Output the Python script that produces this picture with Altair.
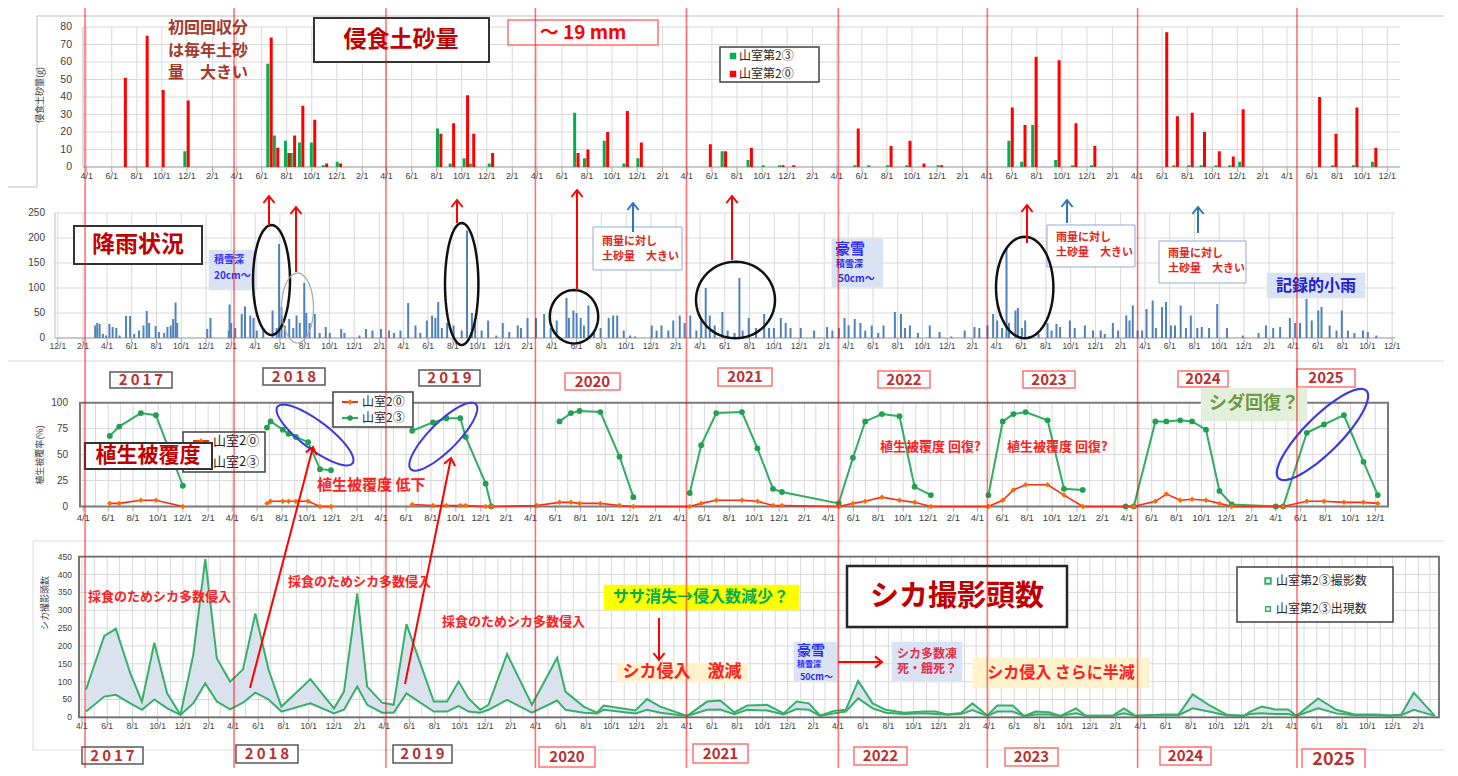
import math
import altair as alt
import pandas as pd

W, H = 1436, 760
OFF = 8  # page margin; annotation boxes/texts below are given in page pixels
JP = "Noto Sans CJK JP"
NUM = "Liberation Sans"
GRID = "#D9D9D9"
DARK_RED = "#C00000"
RED = "#FF2020"

# ====================== DATA ======================
# 侵食土砂量 per collection: 山室第2③ (green) / 山室第2⓪ (red)
ero_dates = ["2017-06-30", "2017-08-22", "2017-09-30", "2017-11-30",
             "2018-06-20", "2018-07-06", "2018-08-02", "2018-08-16", "2018-09-05", "2018-10-04", "2018-11-02", "2018-12-06",
             "2019-08-07", "2019-09-07", "2019-10-11", "2019-10-26", "2019-12-11",
             "2020-07-06", "2020-07-30", "2020-09-16", "2020-11-03", "2020-12-07",
             "2021-05-24", "2021-06-30", "2021-09-01", "2021-10-08", "2021-11-17", "2021-12-13",
             "2022-05-19", "2022-06-22", "2022-08-07", "2022-09-22", "2022-10-26", "2022-12-08",
             "2023-05-29", "2023-06-29", "2023-07-26", "2023-09-20", "2023-10-31", "2023-12-16",
             "2024-06-08", "2024-07-04", "2024-08-09", "2024-09-08", "2024-10-14", "2024-11-17", "2024-12-11",
             "2025-06-15", "2025-07-25", "2025-09-14", "2025-10-30"]
ero_site3 = [0, 0, 0, 9, 59, 18, 15, 8, 14, 14, 1, 3, 22, 2, 5, 2, 2, 31, 5, 15, 2, 5,
             0, 9, 4, 1, 1, 0, 1, 1, 1, 1, 0, 1, 15, 3, 24, 4, 1, 1, 0, 1, 1, 1, 1, 1, 3, 0, 1, 1, 3]
ero_site0 = [51, 75, 44, 38, 74, 11, 8, 18, 35, 27, 2, 2, 19, 25, 41, 19, 8, 8, 10, 20, 32, 14,
             13, 9, 11, 0, 1, 1, 22, 0, 12, 15, 2, 1, 34, 24, 63, 61, 25, 12, 77, 29, 31, 20, 9, 6, 33, 40, 19, 34, 11]

# 降雨 (mm)
rain_dates = [
    "2017-03-03", "2017-03-08", "2017-03-14", "2017-03-22", "2017-03-30", "2017-04-07", "2017-04-15", "2017-04-24", "2017-05-02", "2017-05-18", "2017-05-28", "2017-06-07", "2017-06-19", "2017-06-30", "2017-07-08", "2017-07-14", "2017-07-30", "2017-08-07", "2017-08-20", "2017-08-28", "2017-09-05", "2017-09-11", "2017-09-17", "2017-09-21", "2017-12-04", "2017-12-12", "2018-01-26", "2018-01-28", "2018-02-01", "2018-02-11",
    "2018-02-27", "2018-03-07", "2018-03-20", "2018-03-28", "2018-04-05", "2018-04-21", "2018-05-14", "2018-05-24", "2018-05-30", "2018-06-05", "2018-06-13", "2018-06-24", "2018-07-04", "2018-07-12", "2018-07-20", "2018-07-31", "2018-08-05", "2018-08-13", "2018-08-26", "2018-09-07", "2018-09-22", "2018-10-02", "2018-10-30", "2018-11-07", "2018-12-14", "2018-12-30", "2019-01-15", "2019-02-05", "2019-02-25",
    "2019-03-09", "2019-03-25", "2019-04-13", "2019-05-01", "2019-05-13", "2019-05-29", "2019-06-11", "2019-06-19", "2019-06-26", "2019-07-05", "2019-07-18", "2019-08-03", "2019-08-23", "2019-09-05", "2019-09-17", "2019-09-25", "2019-10-11", "2019-10-27", "2019-11-16", "2019-12-02", "2019-12-18", "2020-01-08", "2020-01-16", "2020-02-01", "2020-02-22",
    "2020-03-13", "2020-03-29", "2020-04-13", "2020-05-07", "2020-05-13", "2020-05-24", "2020-06-01", "2020-06-11", "2020-06-19", "2020-06-30", "2020-07-14", "2020-07-30", "2020-08-19", "2020-08-30", "2020-09-09", "2020-09-25", "2020-10-11", "2020-10-23", "2020-12-03", "2020-12-15", "2020-12-27", "2021-01-13", "2021-01-25", "2021-02-10", "2021-02-22",
    "2021-03-08", "2021-03-23", "2021-04-04", "2021-04-15", "2021-04-25", "2021-05-07", "2021-05-26", "2021-06-08", "2021-06-25", "2021-07-07", "2021-07-15", "2021-07-30", "2021-08-17", "2021-09-06", "2021-09-18", "2021-09-30", "2021-10-17", "2021-10-29", "2021-11-10", "2021-12-05", "2022-01-07", "2022-02-08", "2022-02-21",
    "2022-03-09", "2022-03-23", "2022-04-02", "2022-04-17", "2022-05-01", "2022-05-13", "2022-05-29", "2022-06-14", "2022-06-27", "2022-07-25", "2022-08-09", "2022-08-19", "2022-08-31", "2022-09-20", "2022-10-19", "2022-11-12", "2022-12-11", "2023-01-13",
    "2023-02-06", "2023-02-18", "2023-03-10", "2023-03-24", "2023-04-03", "2023-04-15", "2023-04-26", "2023-05-02", "2023-05-18", "2023-05-24", "2023-06-03", "2023-06-11", "2023-07-14", "2023-08-05", "2023-08-15", "2023-08-27", "2023-09-05", "2023-09-29", "2023-10-11", "2023-11-05", "2023-11-25", "2023-12-14", "2023-12-24", "2024-01-13", "2024-01-26", "2024-02-15", "2024-02-23", "2024-03-02",
    "2024-03-14", "2024-03-25", "2024-04-05", "2024-04-20", "2024-04-28", "2024-05-13", "2024-05-23", "2024-06-04", "2024-06-14", "2024-06-28", "2024-07-11", "2024-07-23", "2024-08-08", "2024-08-19", "2024-09-06", "2024-09-26", "2024-10-20", "2024-11-28", "2025-01-06", "2025-01-24", "2025-02-11", "2025-02-28", "2025-03-24",
    "2025-04-06", "2025-04-18", "2025-05-04", "2025-05-17", "2025-06-02", "2025-06-10", "2025-06-30", "2025-07-17", "2025-07-30", "2025-08-14", "2025-08-30", "2025-09-20", "2025-10-02", "2025-10-23"]
rain_mm = [
    25, 30, 28, 8, 5, 28, 22, 20, 5, 44, 44, 8, 15, 25, 54, 30, 24, 12, 10, 22, 25, 38, 71, 30, 18, 40, 15, 67, 30, 20,
    48, 63, 45, 40, 15, 20, 55, 20, 188, 62, 25, 38, 20, 45, 30, 110, 50, 30, 48, 10, 22, 10, 18, 10, 5, 18, 15, 18, 15,
    10, 15, 70, 25, 10, 35, 45, 40, 72, 20, 30, 25, 15, 215, 50, 40, 15, 35, 5, 30, 12, 25, 20, 40, 40,
    48, 20, 35, 80, 40, 55, 50, 40, 25, 65, 15, 20, 40, 45, 45, 15, 5, 3, 25, 15, 25, 15, 35, 45, 30,
    45, 15, 35, 100, 45, 25, 52, 15, 10, 120, 15, 40, 20, 48, 20, 20, 40, 30, 20, 20, 15, 22, 15,
    20, 40, 25, 38, 30, 15, 25, 10, 25, 52, 48, 20, 25, 10, 25, 12, 3, 15,
    22, 20, 25, 48, 35, 20, 180, 30, 55, 60, 20, 35, 8, 30, 15, 28, 22, 35, 20, 25, 15, 15, 8, 30, 15, 45, 35, 65,
    15, 15, 58, 75, 20, 62, 72, 25, 25, 65, 20, 45, 20, 22, 20, 68, 20, 5, 10, 25, 20, 22, 40,
    30, 30, 78, 35, 55, 62, 25, 15, 55, 15, 10, 15, 12, 5]

# 植生被覆率 (%) 山室2③ (green)
veg3_dates = ["2017-06-05", "2017-06-28", "2017-08-20", "2017-09-26", "2017-12-01",
              "2018-06-25", "2018-07-04", "2018-08-03", "2018-08-17", "2018-09-04", "2018-10-04", "2018-11-02", "2018-11-29",
              "2019-06-16", "2019-08-06", "2019-09-08", "2019-10-12", "2019-10-25", "2019-12-13", "2019-12-27",
              "2020-06-11", "2020-07-09", "2020-07-30", "2020-09-19", "2020-11-05", "2020-12-09",
              "2021-04-26", "2021-05-24", "2021-06-30", "2021-09-01", "2021-10-09", "2021-11-16", "2021-12-08",
              "2022-04-26", "2022-05-31", "2022-06-30", "2022-08-10", "2022-09-22", "2022-10-29", "2022-12-08",
              "2023-04-28", "2023-06-02", "2023-06-28", "2023-07-28", "2023-09-20", "2023-10-30", "2023-12-15",
              "2024-03-29", "2024-04-18", "2024-06-10", "2024-07-07", "2024-08-10", "2024-09-08", "2024-10-12", "2024-11-14", "2024-12-14",
              "2025-04-01", "2025-04-19", "2025-06-16", "2025-07-28", "2025-09-15", "2025-11-02", "2025-12-07"]
veg3_cover = [68, 77, 90, 88, 20,
              76, 82, 74, 70, 67, 62, 36, 35,
              73, 81, 85, 85, 67, 22, 0,
              82, 90, 92, 91, 48, 9,
              13, 59, 90, 91, 56, 17, 14,
              3, 47, 82, 89, 87, 19, 11,
              11, 82, 89, 91, 83, 17, 16,
              0, 0, 82, 82, 83, 82, 74, 15, 2,
              0, 0, 71, 79, 88, 43, 11]
veg3_run = ["a"] * 5 + ["b"] * 8 + ["c"] * 7 + ["d"] * 6 + ["e"] * 14 + ["f"] * 7 + ["g"] * 16

# 植生被覆率 (%) 山室2⓪ (red)
veg0_dates = ["2017-06-05", "2017-06-28", "2017-08-20", "2017-09-26", "2017-12-01",
              "2018-06-25", "2018-07-04", "2018-08-03", "2018-08-17", "2018-09-04", "2018-10-04", "2018-11-02", "2018-11-29",
              "2019-06-16", "2019-08-06", "2019-09-08", "2019-10-12", "2019-10-25", "2019-12-13", "2019-12-27",
              "2020-04-16", "2020-06-11", "2020-07-09", "2020-07-30", "2020-09-19", "2020-11-05", "2020-12-09",
              "2021-04-26", "2021-05-24", "2021-06-30", "2021-09-01", "2021-10-09", "2021-11-16", "2021-12-08",
              "2022-04-26", "2022-05-31", "2022-06-30", "2022-08-10", "2022-09-22", "2022-10-29", "2022-12-08",
              "2023-04-28", "2023-06-02", "2023-06-28", "2023-07-28", "2023-09-20", "2023-10-30", "2023-12-15",
              "2024-04-18", "2024-06-10", "2024-07-07", "2024-08-10", "2024-09-08", "2024-10-12", "2024-11-14", "2024-12-14",
              "2025-04-19", "2025-06-16", "2025-07-28", "2025-09-15", "2025-11-02", "2025-12-07"]
veg0_cover = [3, 3, 6, 6, 0,
              3, 5, 5, 5, 5, 5, 0, 0,
              2, 1, 1, 1, 1, 0, 0,
              1, 4, 4, 3, 3, 1, 0,
              0, 3, 6, 6, 5, 1, 1,
              0, 3, 5, 9, 6, 4, 0,
              0, 6, 16, 21, 21, 11, 0,
              0, 5, 12, 6, 7, 6, 3, 0,
              0, 5, 5, 4, 4, 3]
veg0_run = ["a"] * 5 + ["b"] * 8 + ["c"] * 49

# シカ撮影頭数: 撮影数 (upper) / 出現数 (lower)
deer_dates = ["2017-04-11", "2017-05-25", "2017-06-22", "2017-07-27", "2017-08-24", "2017-09-23", "2017-10-24", "2017-11-25", "2017-12-26",
              "2018-01-24", "2018-02-21", "2018-03-25", "2018-04-25", "2018-05-25", "2018-06-26", "2018-07-27", "2018-10-05", "2018-12-01", "2018-12-25",
              "2019-01-26", "2019-02-19", "2019-03-27", "2019-04-24", "2019-05-25", "2019-07-30", "2019-08-31", "2019-09-28", "2019-10-22", "2019-11-19", "2019-12-09",
              "2020-01-23", "2020-03-23", "2020-05-23", "2020-06-12", "2020-07-26", "2020-08-27", "2020-09-12", "2020-11-28", "2020-12-26",
              "2021-01-27", "2021-04-02", "2021-05-20", "2021-06-21", "2021-07-25", "2021-08-25", "2021-10-12", "2021-11-21", "2021-12-22",
              "2022-01-21", "2022-02-17", "2022-03-23", "2022-04-20", "2022-05-20", "2022-06-24", "2022-07-26", "2022-09-08", "2022-10-26", "2022-11-23", "2022-12-21",
              "2023-01-23", "2023-02-20", "2023-03-28", "2023-04-21", "2023-05-28", "2023-06-25", "2023-07-23", "2023-08-24", "2023-09-21", "2023-10-28", "2023-11-21",
              "2024-01-24", "2024-02-21", "2024-03-20", "2024-05-27", "2024-07-02", "2024-08-05", "2024-09-13", "2024-10-27", "2024-12-06", "2024-12-22",
              "2025-01-19", "2025-02-20", "2025-03-24", "2025-04-13", "2025-06-04", "2025-07-18", "2025-08-31", "2025-10-23", "2025-11-24", "2025-12-22",
              "2026-01-21", "2026-03-13"]
deer_shots = [78, 228, 248, 123, 44, 209, 67, 7, 175,
              443, 165, 100, 134, 291, 133, 30, 107, 25, 72,
              347, 86, 41, 35, 261, 44, 44, 100, 53, 21, 35,
              177, 35, 167, 72, 30, 13, 33, 19, 51,
              30, 4, 44, 47, 14, 33, 35, 11, 44,
              39, 5, 18, 21, 102, 39, 21, 13, 16, 16, 8,
              12, 39, 5, 33, 33, 4, 16, 14, 4, 25, 4,
              4, 25, 4, 8, 8, 64, 35, 7, 4, 16,
              30, 22, 22, 4, 53, 21, 8, 8, 5, 8,
              69, 4]
deer_seen = [16, 58, 63, 39, 21, 50, 25, 7, 39,
             95, 44, 22, 41, 69, 50, 16, 39, 11, 21,
             86, 35, 13, 13, 67, 16, 16, 32, 16, 13, 21,
             49, 13, 47, 21, 13, 11, 21, 11, 21,
             13, 4, 21, 22, 9, 21, 19, 8, 23,
             21, 4, 11, 16, 53, 25, 13, 9, 11, 9, 7,
             9, 20, 4, 16, 16, 4, 8, 8, 4, 11, 4,
             4, 11, 4, 6, 6, 25, 16, 5, 4, 9,
             11, 9, 9, 4, 25, 11, 6, 6, 4, 6,
             21, 4]

years = [str(y) for y in range(2017, 2026)]
season_lines = ["2017-04-09", "2018-04-04", "2019-04-06", "2020-04-01", "2021-04-01",
                "2022-04-03", "2023-03-29", "2024-03-26", "2025-04-15"]

assert len(rain_dates) == len(rain_mm)
assert len(veg3_dates) == len(veg3_cover) == len(veg3_run)
assert len(veg0_dates) == len(veg0_cover) == len(veg0_run)
assert len(deer_dates) == len(deer_shots) == len(deer_seen)
assert len(ero_dates) == len(ero_site3) == len(ero_site0)

# ====================== PANEL LAYOUT ======================
PANELS = {
    "ero":  dict(xd=("2017-03-23", "2026-01-01"), xr=[70, 1397], yd=[0, 80],  yr=[159, 19]),
    "rain": dict(xd=("2016-11-24", "2025-12-08"), xr=[42, 1392], yd=[0, 250], yr=[330, 205]),
    "veg":  dict(xd=("2017-03-24", "2026-01-01"), xr=[72, 1380], yd=[0, 100], yr=[498.5, 394.7]),
    "deer": dict(xd=("2017-03-25", "2026-03-23"), xr=[71, 1431], yd=[0, 450], yr=[709.3, 548.7]),
}


def dt(s):
    y, m, d = (int(v) for v in s.split("-"))
    return alt.DateTime(year=y, month=m, date=d, utc=True)


def xsc(p):
    P = PANELS[p]
    return alt.Scale(type="utc", domain=[dt(P["xd"][0]), dt(P["xd"][1])], range=P["xr"])


def ysc(p):
    P = PANELS[p]
    return alt.Scale(domain=P["yd"], range=P["yr"], nice=False)


def X(field, p):
    return alt.X(field, type="temporal", scale=xsc(p), axis=None)


def Y(field, p):
    return alt.Y(field, type="quantitative", scale=ysc(p), axis=None)


def months(start, end, step):
    return [d.strftime("%Y-%m-%d") for d in pd.date_range(start, end, freq=f"{step}MS")]


def panel_grid(p, yvals, vdates):
    P = PANELS[p]
    hdf = pd.DataFrame({"v": yvals, "xs": P["xd"][0], "xe": P["xd"][1]})
    vdf = pd.DataFrame({"d": vdates, "lo": P["yd"][0], "hi": P["yd"][1]})
    h = alt.Chart(hdf).mark_rule(color=GRID, strokeWidth=1).encode(x=X("xs", p), x2="xe", y=Y("v", p))
    v = alt.Chart(vdf).mark_rule(color=GRID, strokeWidth=1).encode(x=X("d", p), y=Y("lo", p), y2="hi")
    return [h, v]


def panel_axes(p, yvals, xticks, ylab=10, ypad=10, xlab=9, xdy=9):
    """Axis lines, tick marks and tick labels, placed through the panel's own scales."""
    P = PANELS[p]
    line_df = pd.DataFrame({"xs": [P["xd"][0]], "xe": [P["xd"][1]], "lo": [P["yd"][0]], "hi": [P["yd"][1]]})
    xdf = pd.DataFrame({"d": xticks, "lo": P["yd"][0],
                        "lab": [f"{int(t[5:7])}/{int(t[8:10])}" for t in xticks]})
    ydf = pd.DataFrame({"v": yvals, "xs": P["xd"][0], "lab": [str(v) for v in yvals]})
    return [
        alt.Chart(line_df).mark_rule(color="#A6A6A6", strokeWidth=1).encode(x=X("xs", p), x2="xe", y=Y("lo", p)),
        alt.Chart(line_df).mark_rule(color="#BFBFBF", strokeWidth=1).encode(x=X("xs", p), y=Y("lo", p), y2="hi"),
        alt.Chart(xdf).mark_tick(orient="vertical", size=5, thickness=1, color="#A6A6A6", yOffset=2.5, opacity=1).encode(
            x=X("d", p), y=Y("lo", p)),
        alt.Chart(xdf).mark_text(font=NUM, fontSize=xlab, color="#404040", dy=xdy, baseline="middle",
                                 align="center").encode(x=X("d", p), y=Y("lo", p), text="lab:N"),
        alt.Chart(ydf).mark_text(font=NUM, fontSize=ylab, color="#404040", dx=-ypad, baseline="middle",
                                 align="right").encode(x=X("xs", p), y=Y("v", p), text="lab:N"),
    ]


def panel_frame(p, color, width):
    P = PANELS[p]
    df = pd.DataFrame({"xs": [P["xd"][0]], "xe": [P["xd"][1]], "lo": [P["yd"][0]], "hi": [P["yd"][1]]})
    return alt.Chart(df).mark_rect(fill="transparent", stroke=color, strokeWidth=width).encode(
        x=X("xs", p), x2="xe", y=Y("lo", p), y2="hi")


# ---------- erosion panel ----------
ero_df = pd.DataFrame({"date": ero_dates, "s3": ero_site3, "s0": ero_site0})
ero_ticks = months("2017-04-01", "2025-12-01", 2)
ero_layers = panel_grid("ero", list(range(0, 81, 10)), ero_ticks)
ero_layers += panel_axes("ero", list(range(0, 81, 10)), ero_ticks, ylab=10.5, ypad=11, xlab=9, xdy=9)
ero_layers += [
    alt.Chart(ero_df).mark_bar(size=3, xOffset=-1.7, color="#00B050").encode(x=X("date", "ero"), y=Y("s3", "ero")),
    alt.Chart(ero_df).mark_bar(size=3, xOffset=1.7, color="#FF0000").encode(x=X("date", "ero"), y=Y("s0", "ero")),
]

# ---------- rain panel ----------
rain_df = pd.DataFrame({"date": rain_dates, "mm": rain_mm})
rain_ticks = months("2016-12-01", "2025-12-01", 2)
rain_layers = panel_grid("rain", list(range(0, 251, 50)), rain_ticks)
rain_layers += panel_axes("rain", list(range(0, 251, 50)), rain_ticks, ylab=10, ypad=10, xlab=8.5, xdy=8)
rain_layers += [
    alt.Chart(rain_df).mark_bar(size=2, color="#4F81BD").encode(x=X("date", "rain"), y=Y("mm", "rain")),
]

# ---------- vegetation panel ----------
veg3_df = pd.DataFrame({"date": veg3_dates, "v": veg3_cover, "run": veg3_run})
veg0_df = pd.DataFrame({"date": veg0_dates, "v": veg0_cover, "run": veg0_run})
veg_ticks = months("2017-04-01", "2025-12-01", 2)
veg_layers = panel_grid("veg", [0, 25, 50, 75, 100], months("2017-04-01", "2025-12-01", 1))
veg_layers += panel_axes("veg", [0, 25, 50, 75, 100], veg_ticks, ylab=10, ypad=12, xlab=9.5, xdy=11)
veg_layers += [
    panel_frame("veg", "#7A7A7A", 2),
    alt.Chart(veg3_df).mark_line(color="#2FAE5E", strokeWidth=2).encode(
        x=X("date", "veg"), y=Y("v", "veg"), detail="run:N"),
    alt.Chart(veg3_df).mark_point(filled=True, shape="circle", size=34, color="#22A052", opacity=1).encode(
        x=X("date", "veg"), y=Y("v", "veg")),
    alt.Chart(veg0_df).mark_line(color="#FF2A10", strokeWidth=1.6).encode(
        x=X("date", "veg"), y=Y("v", "veg"), detail="run:N"),
    alt.Chart(veg0_df).mark_point(filled=True, shape="diamond", size=30, color="#FF6A00", opacity=1).encode(
        x=X("date", "veg"), y=Y("v", "veg")),
]

# ---------- deer panel ----------
deer_df = pd.DataFrame({"date": deer_dates, "shots": deer_shots, "seen": deer_seen})
deer_ticks = months("2017-04-01", "2026-02-01", 2)
deer_layers = panel_grid("deer", list(range(0, 451, 50)), months("2017-04-01", "2026-03-01", 1))
deer_layers += [
    alt.Chart(deer_df).mark_area(color="#DAE2ED", opacity=1).encode(
        x=X("date", "deer"), y=Y("shots", "deer"), y2="seen"),
    alt.Chart(deer_df).mark_line(color="#36B068", strokeWidth=2).encode(x=X("date", "deer"), y=Y("shots", "deer")),
    alt.Chart(deer_df).mark_line(color="#36B068", strokeWidth=2).encode(x=X("date", "deer"), y=Y("seen", "deer")),
]
deer_layers += panel_axes("deer", list(range(0, 451, 50)), deer_ticks, ylab=8.5, ypad=7, xlab=8.5, xdy=9)
deer_layers += [panel_frame("deer", "#6A6A6A", 1.8)]

# ====================== ANNOTATIONS (page pixels) ======================
XY = dict(x=alt.X("x:Q", scale=None, axis=None), y=alt.Y("y:Q", scale=None, axis=None))


def T(items, size, color, weight="bold", align="left", font=JP, angle=0):
    df = pd.DataFrame(items, columns=["x", "y", "t"])
    df["x"] = df["x"] - OFF
    df["y"] = df["y"] - OFF
    return alt.Chart(df).mark_text(fontSize=size, color=color, fontWeight=weight, align=align, angle=angle,
                                   baseline="middle", font=font).encode(text="t:N", **XY)


def R(items, fill="white", stroke="#404040", sw=1.5):
    df = pd.DataFrame(items, columns=["x", "y", "x2", "y2"]) - OFF
    return alt.Chart(df).mark_rect(fill=fill, stroke=stroke, strokeWidth=sw).encode(
        x2="x2:Q", y2="y2:Q", **XY)


def S(items, color, sw=2, opacity=1.0):
    df = pd.DataFrame(items, columns=["x", "y", "x2", "y2"]) - OFF
    return alt.Chart(df).mark_rule(color=color, strokeWidth=sw, opacity=opacity).encode(
        x2="x2:Q", y2="y2:Q", **XY)


def rot(pts, deg):
    th = math.radians(deg)
    return [(px * math.cos(th) - py * math.sin(th), px * math.sin(th) + py * math.cos(th)) for px, py in pts]


def path(pts, close=False):
    s = "M " + " L ".join(f"{px:.4f} {py:.4f}" for px, py in pts)
    return s + (" Z" if close else "")


def SYM(x, y, shape, size, color, sw=2, filled=False):
    df = pd.DataFrame({"x": [x - OFF], "y": [y - OFF]})
    return alt.Chart(df).mark_point(shape=shape, size=size, color=color, strokeWidth=sw,
                                    filled=filled, opacity=1).encode(**XY)


def ellipse(cx, cy, a, b, deg, color, sw=2.5):
    n = 64
    pts = [(math.cos(2 * math.pi * k / n), (b / a) * math.sin(2 * math.pi * k / n)) for k in range(n)]
    return SYM(cx, cy, path(rot(pts, deg), close=True), (2 * a) ** 2, color, sw)


def arrow(x1, y1, x2, y2, color, sw=2, head=7):
    deg = math.degrees(math.atan2(x2 - x1, -(y2 - y1))) % 360
    chev = path(rot([(-0.8, 1.0), (0.0, 0.0), (0.8, 1.0)], deg))
    return [S([(x1, y1, x2, y2)], color, sw), SYM(x2, y2, chev, (2 * head) ** 2, color, sw)]


ann = []
# faint frames of the pasted figures
ann += [S([(37, 16, 1452, 16), (37, 16, 37, 187), (0, 187, 37, 187)], "#BFBFBF", 1),
        S([(7, 361, 1451, 361)], "#D9D9D9", 1),
        R([(33, 541, 1451, 750)], fill="transparent", stroke="#DDDDDD", sw=1)]

# y-axis titles
ann += [T([(40, 95, "侵食土砂量(g)")], 9, "#404040", weight="normal", align="center", angle=270),
        T([(40, 455, "植生被覆率(%)")], 9, "#404040", weight="normal", align="center", angle=270),
        T([(45, 603, "シカ撮影頭数")], 9, "#404040", weight="normal", align="center", angle=270)]

# --- erosion panel annotations
ann += [T([(168, 28, "初回回収分"), (168, 51, "は毎年土砂"), (168, 73, "量　大きい")], 16, "#A33A2C"),
        R([(314, 18, 489, 62)], stroke="#333333", sw=2),
        T([(401, 40, "侵食土砂量")], 23, DARK_RED, align="center"),
        R([(508, 20, 658, 45)], stroke="#FF7070", sw=1.5),
        T([(583, 33, "～ 19 mm")], 19, "#FF0000", align="center"),
        R([(720, 47, 819, 82)], stroke="#404040", sw=1.5)]
ann += [SYM(733, 56, "square", 42, "#00B050", 1, True), SYM(733, 74, "square", 42, "#FF0000", 1, True),
        T([(739, 56, "山室第2③"), (739, 74, "山室第2⓪")], 12, "#262626", weight="normal")]

# --- rain panel annotations
ann += [R([(74, 226, 202, 264)], stroke="#333333", sw=2),
        T([(138, 245, "降雨状況")], 23, DARK_RED, align="center"),
        R([(209, 250, 257, 290)], fill="#DAE3F3", stroke="#DAE3F3", sw=0.5),
        T([(214, 260, "積雪深"), (214, 276, "20cm～")], 10, "#3333FF"),
        R([(593, 227, 682, 270), (1047, 225, 1135, 267), (1159, 241, 1246, 283)], stroke="#8FAADC", sw=1),
        T([(602, 242, "雨量に対し"), (602, 257, "土砂量　大きい"),
           (1056, 238, "雨量に対し"), (1056, 253, "土砂量　大きい"),
           (1168, 254, "雨量に対し"), (1168, 269, "土砂量　大きい")], 11, "#E02424"),
        R([(832, 239, 883, 287)], fill="#DAE3F3", stroke="#DAE3F3", sw=0.5),
        T([(835, 249, "豪雪")], 15, "#2F2FF0"),
        T([(836, 264, "積雪深")], 9, "#2F2FF0"),
        T([(838, 279, "50cm～")], 10, "#2F2FF0"),
        R([(1267, 273, 1365, 298)], fill="#DAE3F3", stroke="#DAE3F3", sw=0.5),
        T([(1316, 286, "記録的小雨")], 16, "#2020D0", align="center")]
ann += [ellipse(271.5, 280, 55, 18.5, 90, "#111111"),
        ellipse(297.5, 308, 35, 16, 90, "#A6A6A6", 1.2),
        ellipse(461.7, 284, 61, 16.7, 90, "#111111"),
        ellipse(574, 316.7, 26.7, 24.2, 90, "#111111"),
        ellipse(735.5, 300, 39.5, 38.3, 0, "#111111"),
        ellipse(1024.7, 287.5, 50.8, 28.7, 90, "#111111")]
for (x, y1, y2) in [(269, 225, 196), (296, 272, 207), (457, 223, 200), (577, 290, 190), (732, 260, 196), (1027, 243, 205)]:
    ann += arrow(x, y1, x, y2, "#FF0000")
for (x, y1, y2) in [(633, 232, 203), (1067, 223, 200), (1198, 233, 207)]:
    ann += arrow(x, y1, x, y2, "#2E75B6")

# --- year labels
top_gray = [(110, 372, 172, 388), (263, 368, 325, 385), (419, 370, 480, 386)]
top_red = [(565, 373, 620, 390), (718, 368, 772, 386), (878, 371, 930, 388), (1023, 371, 1075, 388),
           (1178, 371, 1228, 387), (1297, 369, 1355, 387)]
bot_gray = [(82, 747, 143, 764), (236, 745, 298, 763), (393, 745, 452, 763)]
bot_red = [(539, 747, 595, 767), (693, 744, 748, 763), (854, 747, 907, 765), (1005, 748, 1058, 766),
           (1160, 747, 1211, 765), (1302, 749, 1365, 770)]
ann += [R(top_gray, stroke="#595959", sw=1.5), R(top_red, stroke="#FF7272", sw=1.5),
        R(bot_gray, stroke="#595959", sw=1.5), R(bot_red, stroke="#FF7272", sw=1.5)]
spaced = {y: "\u2009".join(y) for y in years[:3]}
top_boxes = top_gray + top_red
bot_boxes = bot_gray + bot_red
ann += [T([((b[0] + b[2]) / 2, (b[1] + b[3]) / 2, spaced.get(y, y)) for b, y in zip(top_boxes, years)],
          15, "#B8312F", align="center"),
        T([((b[0] + b[2]) / 2, (b[1] + b[3]) / 2, spaced.get(y, y)) for b, y in zip(bot_boxes[:-1], years[:-1])],
          15, "#B8312F", align="center"),
        T([((bot_boxes[-1][0] + bot_boxes[-1][2]) / 2, (bot_boxes[-1][1] + bot_boxes[-1][3]) / 2, years[-1])],
          18, "#B8312F", align="center")]

# --- vegetation panel annotations
ann += [R([(183, 432, 265, 472)], stroke="#404040", sw=1.5),
        S([(193, 441, 209, 441)], "#FF2A10", 2), SYM(201, 441, "diamond", 30, "#FF6A00", 1, True),
        T([(213, 441, "山室2⓪"), (213, 462, "山室2③")], 13, "#262626", weight="normal"),
        R([(85, 443, 212, 469)], stroke="#333333", sw=2),
        T([(148, 456, "植生被覆度")], 21, DARK_RED, align="center"),
        R([(333, 392, 413, 427)], stroke="#404040", sw=1.5),
        S([(342, 402, 358, 402)], "#FF2A10", 2), SYM(350, 402, "diamond", 30, "#FF6A00", 1, True),
        S([(342, 418, 358, 418)], "#2FAE5E", 2), SYM(350, 418, "circle", 30, "#22A052", 1, True),
        T([(362, 402, "山室2⓪"), (362, 418, "山室2③")], 12, "#262626", weight="normal"),
        ellipse(315, 435, 47, 14, 37, "#3A3AE0", 2),
        ellipse(443.3, 436.7, 46, 14, 315, "#3A3AE0", 2),
        ellipse(1322.5, 434.5, 62, 18, 315, "#3A3AE0", 2.2),
        T([(317, 485, "植生被覆度 低下")], 15, RED),
        T([(880, 447, "植生被覆度 回復?"), (1007, 447, "植生被覆度 回復?")], 13, RED),
        R([(1201, 388, 1307, 421)], fill="#E2EFDA", stroke="#E2EFDA", sw=0.5),
        T([(1254, 404, "シダ回復？")], 18, "#6E9A45", align="center")]
ann += arrow(250, 688, 313, 447, "#FF0000")
ann += arrow(405, 684, 451, 458, "#FF0000")

# --- deer panel annotations
ann += [T([(88, 597, "採食のためシカ多数侵入"), (288, 582, "採食のためシカ多数侵入"), (442, 622, "採食のためシカ多数侵入")], 13, RED),
        R([(604, 585, 799, 610)], fill="#FFFF00", stroke="#FFFF00", sw=0.5),
        T([(701, 597, "ササ消失→侵入数減少？")], 16, "#00B050", align="center"),
        R([(617, 663, 747, 682)], fill="#FFF2CC", stroke="#FFF2CC", sw=0.5),
        T([(682, 672, "シカ侵入　激減")], 17, RED, align="center"),
        R([(847, 566, 1067, 627)], stroke="#262626", sw=2.5),
        T([(957, 597, "シカ撮影頭数")], 29, DARK_RED, align="center"),
        R([(794, 642, 837, 682)], fill="#DAE3F3", stroke="#DAE3F3", sw=0.5),
        T([(797, 651, "豪雪")], 14, "#2F2FF0"),
        T([(797, 665, "積雪深")], 8, "#2F2FF0"),
        T([(800, 677, "50cm～")], 9, "#2F2FF0"),
        R([(892, 642, 962, 682)], fill="#DAE3F3", stroke="#DAE3F3", sw=0.5),
        T([(897, 654, "シカ多数凍"), (897, 669, "死・餓死？")], 12, "#E0304A"),
        R([(973, 658, 1149, 688)], fill="#FFF2CC", stroke="#FFF2CC", sw=0.5),
        T([(1061, 673, "シカ侵入  さらに半減")], 16, RED, align="center"),
        R([(1237, 567, 1393, 622)], stroke="#404040", sw=1.5),
        SYM(1268, 581, "square", 30, "#36B068", 2), SYM(1268, 609, "square", 22, "#36B068", 1.5),
        T([(1276, 581, "山室第2③撮影数"), (1276, 609, "山室第2③出現数")], 12, "#262626", weight="normal")]
ann += arrow(659, 618, 659, 660, "#FF0000")
ann += arrow(838, 662, 882, 662, "#FF0000")

# --- red season lines spanning all panels
season_df = pd.DataFrame({"date": season_lines})
red_lines = alt.Chart(season_df).mark_rule(color="#FF0000", strokeWidth=1.6, opacity=0.55).encode(
    x=X("date", "ero"), y=alt.value(0), y2=alt.value(H))

chart = alt.layer(
    alt.layer(*ero_layers),
    alt.layer(*rain_layers),
    alt.layer(*veg_layers),
    alt.layer(*deer_layers),
    *ann,
    red_lines,
).resolve_scale(x="independent", y="independent").properties(
    width=W, height=H, autosize=alt.AutoSizeParams(type="none"), padding=0, background="white"
).configure_view(stroke="transparent")

chart.save("out.html", embed_options={"renderer": "svg", "actions": False})
